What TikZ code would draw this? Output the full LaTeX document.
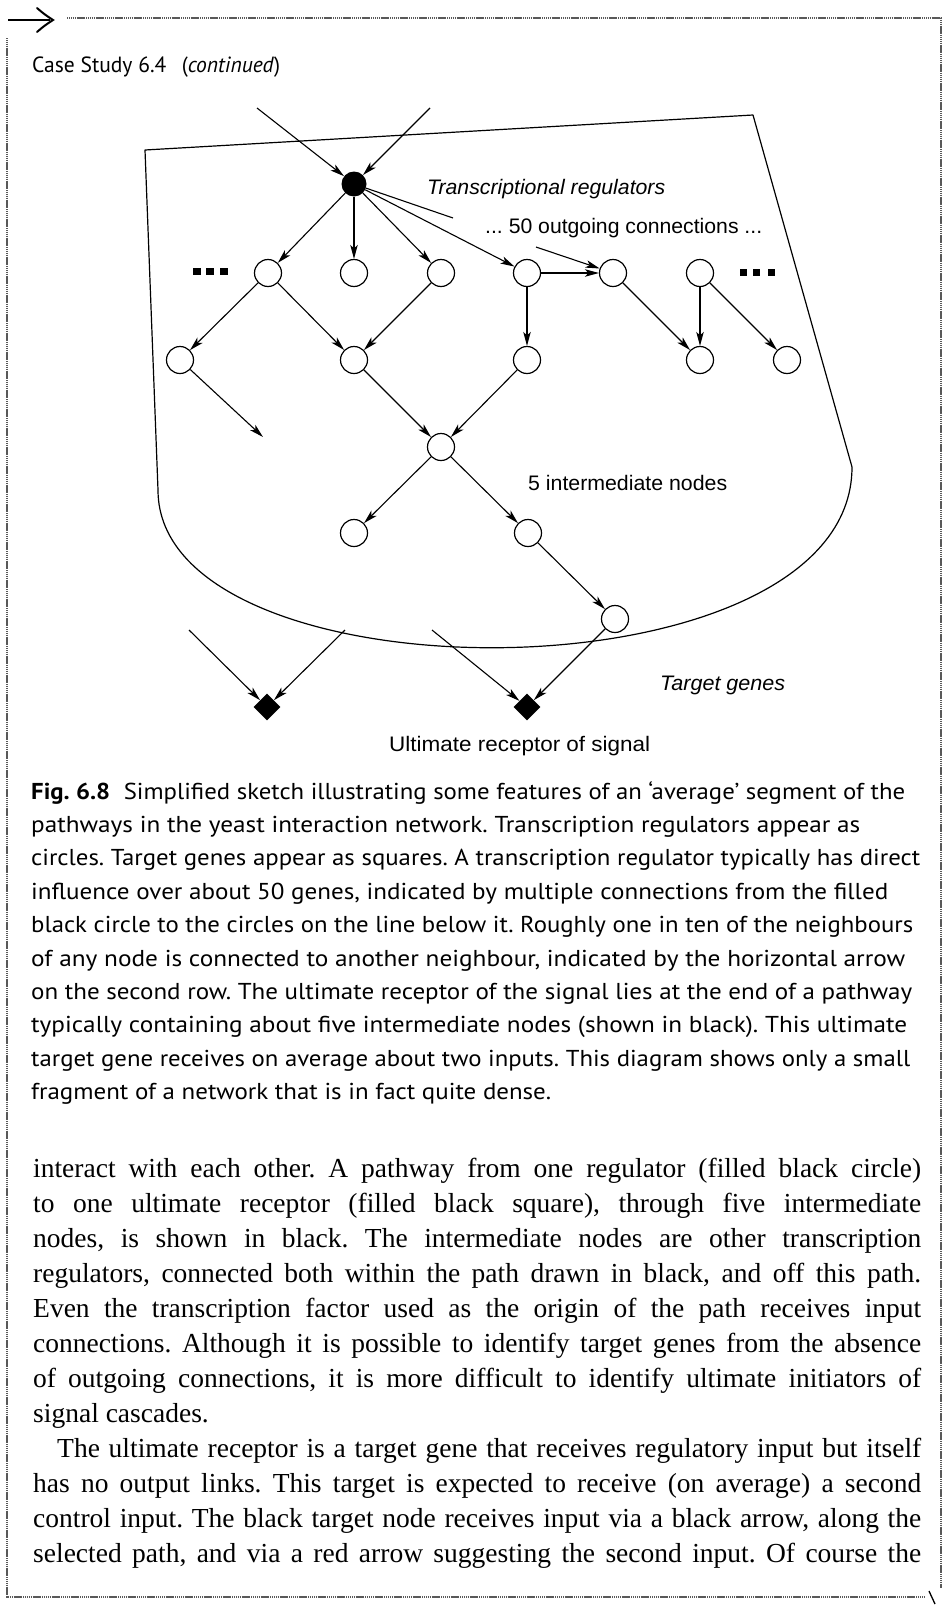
\documentclass[tikz,border=0pt]{standalone}
\usepackage{fontspec}
\usepackage{graphicx}
\setmainfont{Liberation Serif}
\newfontfamily\capfont{PT Sans}
\newfontfamily\figfont{Liberation Sans}
\usetikzlibrary{arrows.meta,shapes.geometric}
\frenchspacing

% set a line of text to a given width (horizontal scaling only)
\newcommand{\fitto}[2]{\resizebox{#1}{\height}{#2}}
% a justified body line of given width
\newcommand{\jline}[2]{\makebox[#1][s]{#2}}

\tikzset{
  regnode/.style={circle, draw, line width=1.2pt, minimum size=27pt, inner sep=0pt, fill=white},
  srcnode/.style={circle, fill=black, minimum size=25pt, inner sep=0pt},
  genenode/.style={diamond, fill=black, minimum size=27pt, inner sep=0pt},
  edgearrow/.style={line width=1.1pt, -{Stealth[length=14pt,width=7.5pt,inset=3.5pt]}},
  plainedge/.style={line width=1.1pt},
  regionline/.style={line width=1.2pt, line join=round},
  figlabel/.style={font=\figfont\fontsize{21pt}{25pt}\selectfont, inner sep=0pt, anchor=base west},
  captext/.style={font=\capfont\fontsize{23pt}{33pt}\selectfont, inner sep=0pt, anchor=base west},
  bodytext/.style={font=\fontsize{27.5pt}{35pt}\selectfont, inner sep=0pt, anchor=base west},
  pageframe/.style={draw=black!65, line width=1.1pt, dash pattern=on 1.3pt off 0.6pt},
  dotmark/.style={fill=black}
}

\begin{document}
\begin{tikzpicture}[x=1pt,y=-1pt]
\useasboundingbox (0,0) rectangle (945,1606);
\fill[white] (0,0) rectangle (945,1606);

% ---------- page furniture ----------
\draw[line width=2.8pt] (8,20) -- (50,20);
\draw[line width=2pt, line cap=round] (37,8) .. controls (44,14) .. (53,20) .. controls (44,26) .. (37,32);
\draw[pageframe] (67,18) -- (941,18) -- (941,1588);
\draw[pageframe] (7,38) -- (7,1597) -- (925,1597);
\draw[line width=1.3pt] (929,1591) -- (935,1604);

\node[captext, font=\capfont\fontsize{22pt}{26pt}\selectfont] (head) at (32,72)
  {\fitto{248pt}{Case Study 6.4\hspace{0.45em} (\textit{continued})}};

% ---------- the region of transcriptional regulators ----------
\coordinate (tl) at (145,150);
\coordinate (tr) at (753,115);
\coordinate (rb) at (852,467);
\coordinate (lb) at (158,490);
\draw[regionline] (lb) -- (tl) -- (tr) -- (rb)
  .. controls (852,704) and (158,704) .. (lb);

% ---------- nodes ----------
\node[srcnode] (R) at (354,184) {};

\node[regnode] (a2) at (268,273) {};
\node[regnode] (b2) at (354,273) {};
\node[regnode] (c2) at (441,273) {};
\node[regnode] (d2) at (527,273) {};
\node[regnode] (e2) at (613,273) {};
\node[regnode] (f2) at (700,273) {};

\node[regnode] (a3) at (180,360) {};
\node[regnode] (b3) at (354,360) {};
\node[regnode] (c3) at (527,360) {};
\node[regnode] (d3) at (700,360) {};
\node[regnode] (e3) at (787,360) {};

\node[regnode] (a4) at (441,447) {};

\node[regnode] (a5) at (354,533) {};
\node[regnode] (b5) at (528,533) {};

\node[regnode] (a6) at (615,619) {};

\node[genenode] (t1) at (267,707) {};
\node[genenode] (t2) at (527,707) {};

% free ends of connectors
\coordinate (inL) at (257,108);
\coordinate (inR) at (430,108);
\coordinate (stubA) at (453,218);
\coordinate (stubB) at (536,247);
\coordinate (dangle) at (263,437);
\coordinate (gi1) at (189,630);
\coordinate (gi2) at (345,630);
\coordinate (gi3) at (432,630);

% ellipsis marks on the second row
\fill[dotmark] (193,268) rectangle (201,275);
\fill[dotmark] (206,268) rectangle (214,275);
\fill[dotmark] (220,268) rectangle (228,275);
\fill[dotmark] (740,269) rectangle (747,276);
\fill[dotmark] (753,269) rectangle (760,276);
\fill[dotmark] (768,269) rectangle (775,276);

% ---------- connectors ----------
\draw[edgearrow] (inL) -- (R);
\draw[edgearrow] (inR) -- (R);
\draw[edgearrow] (R) -- (a2);
\draw[edgearrow] (R) -- (b2);
\draw[edgearrow] (R) -- (c2);
\draw[edgearrow] (R) -- (d2);
\draw[plainedge] (R) -- (stubA);
\draw[edgearrow] (stubB) -- (e2);
\draw[edgearrow] (d2) -- (e2);

\draw[edgearrow] (a2) -- (a3);
\draw[edgearrow] (a2) -- (b3);
\draw[edgearrow] (c2) -- (b3);
\draw[edgearrow] (d2) -- (c3);
\draw[edgearrow] (e2) -- (d3);
\draw[edgearrow] (f2) -- (d3);
\draw[edgearrow] (f2) -- (e3);

\draw[edgearrow] (a3) -- (dangle);
\draw[edgearrow] (b3) -- (a4);
\draw[edgearrow] (c3) -- (a4);
\draw[edgearrow] (a4) -- (a5);
\draw[edgearrow] (a4) -- (b5);
\draw[edgearrow] (b5) -- (a6);

\draw[edgearrow] (gi1) -- (t1);
\draw[edgearrow] (gi2) -- (t1);
\draw[edgearrow] (gi3) -- (t2);
\draw[edgearrow] (a6) -- (t2);

% ---------- labels ----------
\node[figlabel] (lregs) at (427,194) {\fitto{238pt}{\itshape Transcriptional regulators}};
\node[figlabel] (lfifty) at (485,233) {\fitto{277pt}{... 50 outgoing connections ...}};
\node[figlabel] (lfive) at (528,490) {\fitto{199pt}{5 intermediate nodes}};
\node[figlabel] (ltarget) at (660,690) {\fitto{125pt}{\itshape Target genes}};
\node[figlabel] (lult) at (389,751) {\fitto{261pt}{Ultimate receptor of signal}};

% ---------- caption ----------
\node[captext] (c1) at (31,799.0) {\fitto{874pt}{\textbf{Fig. 6.8}\hspace{0.55em}Simplified sketch illustrating some features of an ‘average’ segment of the}};
\node[captext] (c2) at (31,832.4) {\fitto{829pt}{pathways in the yeast interaction network. Transcription regulators appear as}};
\node[captext] (c3) at (31,865.8) {\fitto{889pt}{circles. Target genes appear as squares. A transcription regulator typically has direct}};
\node[captext] (c4) at (31,899.2) {\fitto{857pt}{influence over about 50 genes, indicated by multiple connections from the filled}};
\node[captext] (c5) at (31,932.6) {\fitto{882pt}{black circle to the circles on the line below it. Roughly one in ten of the neighbours}};
\node[captext] (c6) at (31,966.0) {\fitto{874pt}{of any node is connected to another neighbour, indicated by the horizontal arrow}};
\node[captext] (c7) at (31,999.4) {\fitto{881pt}{on the second row. The ultimate receptor of the signal lies at the end of a pathway}};
\node[captext] (c8) at (31,1032.8) {\fitto{876pt}{typically containing about five intermediate nodes (shown in black). This ultimate}};
\node[captext] (c9) at (31,1066.2) {\fitto{879pt}{target gene receives on average about two inputs. This diagram shows only a small}};
\node[captext] (c10) at (31,1099.6) {\fitto{520pt}{fragment of a network that is in fact quite dense.}};

% ---------- running text ----------
\node[bodytext] (p1) at (33,1177) {\jline{888pt}{interact with each other. A pathway from one regulator (filled black circle)}};
\node[bodytext] (p2) at (33,1212) {\jline{888pt}{to one ultimate receptor (filled black square), through five intermediate}};
\node[bodytext] (p3) at (33,1247) {\jline{888pt}{nodes, is shown in black. The intermediate nodes are other transcription}};
\node[bodytext] (p4) at (33,1282) {\jline{888pt}{regulators, connected both within the path drawn in black, and off this path.}};
\node[bodytext] (p5) at (33,1317) {\jline{888pt}{Even the transcription factor used as the origin of the path receives input}};
\node[bodytext] (p6) at (33,1352) {\jline{888pt}{connections. Although it is possible to identify target genes from the absence}};
\node[bodytext] (p7) at (33,1387) {\jline{888pt}{of outgoing connections, it is more difficult to identify ultimate initiators of}};
\node[bodytext] (p8) at (33,1422) {signal cascades.};
\node[bodytext] (p9) at (57,1457) {\jline{864pt}{The ultimate receptor is a target gene that receives regulatory input but itself}};
\node[bodytext] (p10) at (33,1492) {\jline{888pt}{has no output links. This target is expected to receive (on average) a second}};
\node[bodytext] (p11) at (33,1527) {\jline{888pt}{control input. The black target node receives input via a black arrow, along the}};
\node[bodytext] (p12) at (33,1562) {\jline{888pt}{selected path, and via a red arrow suggesting the second input. Of course the}};
\end{tikzpicture}
\end{document}
